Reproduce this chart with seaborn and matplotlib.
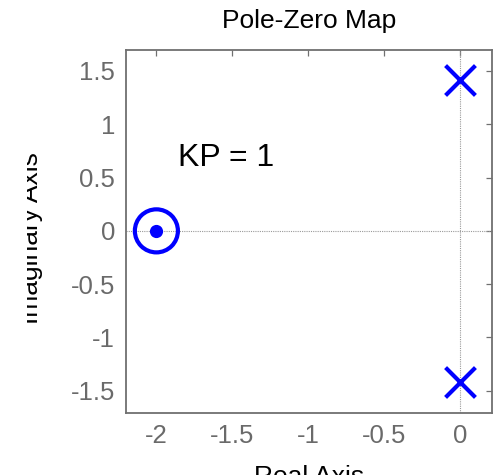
import matplotlib
matplotlib.use("Agg")
import matplotlib.pyplot as plt
import seaborn as sns
import pandas as pd
from matplotlib.patches import Rectangle

# Pole/zero locations of the closed loop (KP = 1)
zero_re = [-2.0]
zero_im = [0.0]
pole_re = [0.0, 0.0]
pole_im = [1.414, -1.414]

x_ticks = [-2, -1.5, -1, -0.5, 0]
y_ticks = [-1.5, -1, -0.5, 0, 0.5, 1, 1.5]
x_tick_labels = ["-2", "-1.5", "-1", "-0.5", "0"]
y_tick_labels = ["-1.5", "-1", "-0.5", "0", "0.5", "1", "1.5"]

gain_text = "KP = 1"

sns.set_style("white")
plt.rcParams["font.family"] = ["Liberation Sans", "DejaVu Sans"]
plt.rcParams["axes.unicode_minus"] = False

fig = plt.figure(figsize=(4.98, 4.75), dpi=100)
ax = fig.add_axes([126 / 498, 1 - 413 / 475, 366 / 498, 363 / 475])

grey = "#707070"
blue = "#0000ff"

# zero-axis reference lines
ax.axhline(0, color="#9a9a9a", lw=0.8, ls=(0, (1, 1)), zorder=1)
ax.axvline(0, color="#9a9a9a", lw=0.8, ls=(0, (1, 1)), zorder=1)

zeros = pd.DataFrame({"re": zero_re, "im": zero_im})
poles = pd.DataFrame({"re": pole_re, "im": pole_im})

# zero: open ring with a centre dot
sns.scatterplot(data=zeros, x="re", y="im", ax=ax, marker="o", s=31 ** 2,
                color=blue, linewidth=3.0, zorder=3, legend=False)
ring = ax.collections[-1]
ring.set_facecolor("none")
ring.set_edgecolor(blue)
sns.scatterplot(data=zeros, x="re", y="im", ax=ax, marker="o", s=9.5 ** 2,
                color=blue, linewidth=0, zorder=4, legend=False)

# poles
sns.scatterplot(data=poles, x="re", y="im", ax=ax, marker="x", s=21.5 ** 2,
                color=blue, linewidth=3.0, zorder=4, legend=False)

ax.set_xlim(-2.2, 0.209)
ax.set_ylim(-1.709, 1.697)
ax.set_xticks(x_ticks)
ax.set_xticklabels(x_tick_labels)
ax.set_yticks(y_ticks)
ax.set_yticklabels(y_tick_labels)

ax.tick_params(axis="both", direction="in", length=4, width=0.9, color=grey,
               labelcolor="#6a6a6a", labelsize=18.5, top=True, right=True)
ax.tick_params(axis="x", pad=8)
ax.tick_params(axis="y", pad=8)
for sp in ax.spines.values():
    sp.set_color(grey)
    sp.set_linewidth(1.3)

ax.set_title("Pole-Zero Map", fontsize=19, color="black", pad=16)
ax.set_xlabel("Real Axis", fontsize=19, color="black")
ax.set_ylabel("Imaginary Axis", fontsize=19, color="black")
ax.xaxis.set_label_coords(0.5, -0.143)
ax.yaxis.set_label_coords(-0.227, 0.483)

ax.text(-1.86, 0.685, gain_text, fontsize=23, color="black",
        ha="left", va="center")

# white margin strip on the left edge
fig.patches.append(Rectangle((0, 0), 27 / 498, 1, transform=fig.transFigure,
                             facecolor="white", edgecolor="none", zorder=10))

fig.savefig("out.png", dpi=100)
